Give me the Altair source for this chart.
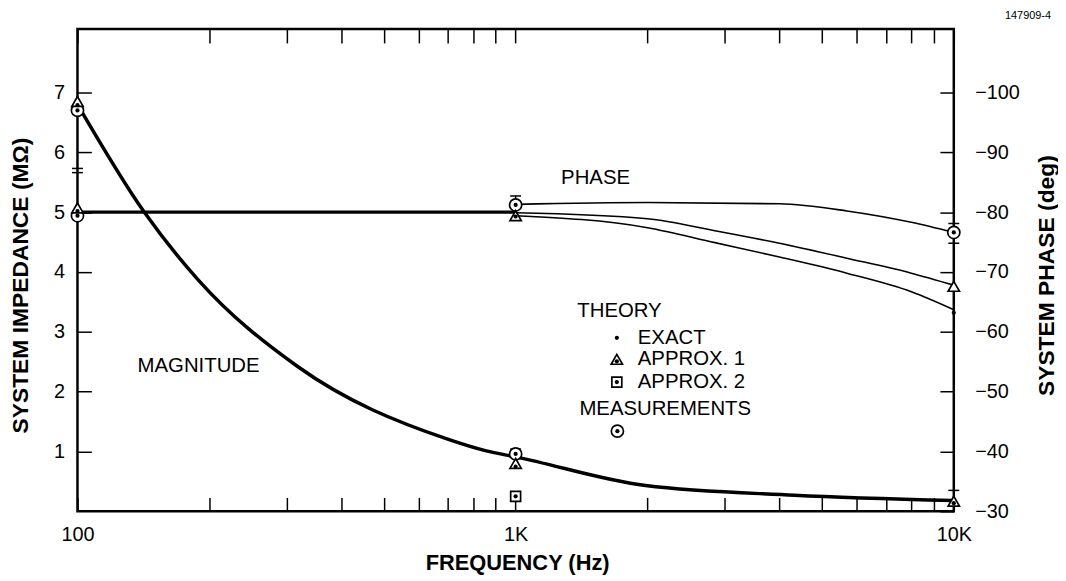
import altair as alt
import pandas as pd

FONT = "Liberation Sans"
W, H = 883, 486
L_TOP = 8.06
PH_TOP = -30 - 10 * L_TOP

# ---------------- data ----------------
x_ticks = [100, 200, 300, 400, 500, 600, 700, 800, 900,
           1000, 2000, 3000, 4000, 5000, 6000, 7000, 8000, 9000, 10000]
left_ticks = [1, 2, 3, 4, 5, 6, 7]
right_ticks = [-30, -40, -50, -60, -70, -80, -90, -100]

# magnitude curve (MOhm)
mag_f = [100, 142, 189, 318, 697, 857, 1000, 1980, 4330, 10000]
mag_v = [6.8, 5.0, 3.86, 2.42, 1.21, 1.01, 0.91, 0.43, 0.27, 0.18]

# phase curves (deg)
ph_main_f = [100, 1000]
ph_main_v = [-80, -80]
ph_top_f = [1000, 2000, 4000, 5700, 8000, 10000]
ph_top_v = [-81.3, -81.6, -81.4, -80.2, -78.3, -76.6]
ph_mid_f = [1000, 2000, 2850, 4000, 5700, 8000, 10000]
ph_mid_v = [-79.9, -78.9, -76.9, -74.8, -72.3, -69.8, -67.8]
ph_bot_f = [1000, 2000, 2850, 4000, 5700, 8000, 10000]
ph_bot_v = [-79.4, -77.4, -74.9, -72.5, -69.8, -66.7, -63.7]

# markers - magnitude
mag_meas_f = [100, 1000]
mag_meas_v = [6.7, 0.96]
mag_ap1_f = [100, 1000, 10000]
mag_ap1_v = [6.85, 0.8, 0.17]
mag_exact_f = [100, 1000, 10000]
mag_exact_v = [6.82, 0.78, 0.17]
mag_ap2_f = [1000]
mag_ap2_v = [0.25]
mag_err_f = [1000, 10000]
mag_err_lo = [0.96, 0.18]
mag_err_hi = [1.04, 0.35]

# markers - phase
ph_meas_f = [100, 1000, 10000]
ph_meas_v = [-79.4, -81.2, -76.6]
ph_ap1_f = [100, 1000, 10000]
ph_ap1_v = [-80.7, -79.4, -67.6]
ph_exact_f = [100, 1000, 10000]
ph_exact_v = [-80.5, -79.6, -63.5]
ph_err_f = [1000, 10000]
ph_err_lo = [-81.2, -74.8]
ph_err_hi = [-82.7, -78.1]
ph_cap_f = [100, 100, 1000, 10000, 10000]
ph_cap_v = [-86.6, -87.3, -82.7, -78.1, -74.8]

# annotations (freq, MOhm units)
ann_text = ["PHASE", "MAGNITUDE"]
ann_f = [1522, 189]
ann_v = [5.57, 2.42]
leg_text = ["THEORY", "EXACT", "APPROX. 1", "APPROX. 2", "MEASUREMENTS"]
leg_f = [1383, 1900, 1900, 1900, 1398]
leg_v = [3.35, 2.9, 2.54, 2.16, 1.71]
leg_exact = (1702, 2.9)
leg_ap1 = (1702, 2.54)
leg_ap2 = (1702, 2.16)
leg_meas = (1707, 1.34)

# ---------------- scales / axes ----------------
xscale = alt.Scale(type="log", domain=[100, 10000], nice=False)
yL = alt.Scale(domain=[0, L_TOP], nice=False, zero=False)
yR = alt.Scale(domain=[PH_TOP, -30], reverse=True, nice=False, zero=False)

common_axis = dict(domain=False, grid=False, tickColor="black", tickWidth=1.5,
                   tickSize=14, offset=-14, labelFont=FONT, labelFontSize=20,
                   labelColor="black", titleFont=FONT, titleColor="black",
                   titleFontWeight="bold", labelOverlap=False, labelFlush=False)

x_bottom = alt.Axis(orient="bottom", values=x_ticks,
                    labelExpr="datum.value == 100 ? '100' : datum.value == 1000 ? '1K' : datum.value == 10000 ? '10K' : ''",
                    labelPadding=13, title="FREQUENCY (Hz)", titleFontSize=22,
                    titleX=443, titleY=66, titleBaseline="middle", **common_axis)
x_top = alt.Axis(orient="top", values=x_ticks, labels=False, title=None, **common_axis)
y_left = alt.Axis(orient="left", values=left_ticks, labelPadding=13,
                  title="SYSTEM IMPEDANCE (MΩ)", titleFontSize=23, titleAngle=270,
                  titleX=-71.5, titleY=258, titleBaseline="middle", **common_axis)
y_right = alt.Axis(orient="right", values=right_ticks, labelPadding=21,
                   title="SYSTEM PHASE (deg)", titleFontSize=23, titleAngle=270,
                   titleX=107, titleY=248, titleBaseline="middle", **common_axis)


def XM(field="f"):
    return alt.X(f"{field}:Q", scale=xscale, axis=x_bottom)


def XP(field="f"):
    return alt.X(f"{field}:Q", scale=xscale, axis=x_top)


def YM(field="v"):
    return alt.Y(f"{field}:Q", scale=yL, axis=y_left)


def YP(field="v"):
    return alt.Y(f"{field}:Q", scale=yR, axis=y_right)


def df(f, v, **extra):
    d = {"f": f, "v": v}
    d.update(extra)
    return pd.DataFrame(d)


def open_sym(shape, size):
    return dict(shape=shape, size=size, filled=True, fill="white",
                stroke="black", strokeWidth=1.7, opacity=1)


DOT = dict(shape="circle", size=18, filled=True, color="black", opacity=1)
DOT_T = dict(shape="circle", size=18, filled=True, color="black", opacity=1, yOffset=2)

# ---------------- magnitude layer ----------------
mag_line = alt.Chart(df(mag_f, mag_v)).mark_line(
    color="black", strokeWidth=3.5, interpolate="monotone").encode(x=XM(), y=YM())
mag_rule = alt.Chart(df(mag_err_f, mag_err_lo, hi=mag_err_hi)).mark_rule(
    color="black", strokeWidth=1.5).encode(x=XM(), y=YM(), y2="hi:Q")
mag_cap = alt.Chart(df(mag_err_f, mag_err_hi)).mark_tick(
    orient="horizontal", size=11, thickness=1.5, color="black", opacity=1).encode(x=XM(), y=YM())
mag_meas = alt.Chart(df(mag_meas_f, mag_meas_v)).mark_point(**open_sym("circle", 150)).encode(x=XM(), y=YM())
mag_meas_d = alt.Chart(df(mag_meas_f, mag_meas_v)).mark_point(**DOT).encode(x=XM(), y=YM())
mag_ap1 = alt.Chart(df(mag_ap1_f, mag_ap1_v)).mark_point(**open_sym("triangle-up", 130)).encode(x=XM(), y=YM())
mag_ex = alt.Chart(df(mag_exact_f, mag_exact_v)).mark_point(**DOT_T).encode(x=XM(), y=YM())
mag_ap2 = alt.Chart(df(mag_ap2_f, mag_ap2_v)).mark_point(**open_sym("square", 100)).encode(x=XM(), y=YM())
mag_ap2_d = alt.Chart(df(mag_ap2_f, mag_ap2_v)).mark_point(**DOT).encode(x=XM(), y=YM())

ann = alt.Chart(df(ann_f, ann_v, t=ann_text)).mark_text(
    font=FONT, fontSize=20.5, color="black", align="center", baseline="middle").encode(
    x=XM(), y=YM(), text="t:N")
leg = alt.Chart(df(leg_f, leg_v, t=leg_text)).mark_text(
    font=FONT, fontSize=20.5, color="black", align="left", baseline="middle").encode(
    x=XM(), y=YM(), text="t:N")
leg_ex = alt.Chart(df([leg_exact[0]], [leg_exact[1]])).mark_point(**DOT).encode(x=XM(), y=YM())
leg_t = alt.Chart(df([leg_ap1[0]], [leg_ap1[1]])).mark_point(**open_sym("triangle-up", 130)).encode(x=XM(), y=YM())
leg_td = alt.Chart(df([leg_ap1[0]], [leg_ap1[1]])).mark_point(**DOT_T).encode(x=XM(), y=YM())
leg_s = alt.Chart(df([leg_ap2[0]], [leg_ap2[1]])).mark_point(**open_sym("square", 100)).encode(x=XM(), y=YM())
leg_sd = alt.Chart(df([leg_ap2[0]], [leg_ap2[1]])).mark_point(**DOT).encode(x=XM(), y=YM())
leg_c = alt.Chart(df([leg_meas[0]], [leg_meas[1]])).mark_point(**open_sym("circle", 150)).encode(x=XM(), y=YM())
leg_cd = alt.Chart(df([leg_meas[0]], [leg_meas[1]])).mark_point(**DOT).encode(x=XM(), y=YM())

figno = alt.Chart(pd.DataFrame({"t": ["147909-4"]})).mark_text(
    font=FONT, fontSize=11, color="black", align="right", baseline="middle").encode(
    x=alt.value(981), y=alt.value(-13), text="t:N")

mag_layer = alt.layer(mag_line, mag_rule, mag_cap, mag_ap2, mag_ap2_d, mag_meas, mag_meas_d,
                      mag_ap1, mag_ex, ann, leg, leg_ex, leg_t, leg_td, leg_s, leg_sd,
                      leg_c, leg_cd, figno)

# ---------------- phase layer ----------------
curves = pd.concat([
    df(ph_main_f, ph_main_v, c=["main"] * len(ph_main_f)),
    df(ph_top_f, ph_top_v, c=["top"] * len(ph_top_f)),
    df(ph_mid_f, ph_mid_v, c=["mid"] * len(ph_mid_f)),
    df(ph_bot_f, ph_bot_v, c=["bot"] * len(ph_bot_f)),
])
ph_lines = alt.Chart(curves).mark_line(color="black", interpolate="monotone").encode(
    x=XP(), y=YP(), detail="c:N",
    strokeWidth=alt.condition("datum.c == 'main'", alt.value(3.2), alt.value(1.6)))
ph_rule = alt.Chart(df(ph_err_f, ph_err_lo, hi=ph_err_hi)).mark_rule(
    color="black", strokeWidth=1.5).encode(x=XP(), y=YP(), y2="hi:Q")
ph_cap = alt.Chart(df(ph_cap_f, ph_cap_v)).mark_tick(
    orient="horizontal", size=11, thickness=1.5, color="black", opacity=1).encode(x=XP(), y=YP())
ph_meas = alt.Chart(df(ph_meas_f, ph_meas_v)).mark_point(**open_sym("circle", 150)).encode(x=XP(), y=YP())
ph_meas_d = alt.Chart(df(ph_meas_f, ph_meas_v)).mark_point(**DOT).encode(x=XP(), y=YP())
ph_ap1 = alt.Chart(df(ph_ap1_f, ph_ap1_v)).mark_point(**open_sym("triangle-up", 130)).encode(x=XP(), y=YP())
ph_ex = alt.Chart(df(ph_exact_f, ph_exact_v)).mark_point(**DOT_T).encode(x=XP(), y=YP())

phase_layer = alt.layer(ph_lines, ph_rule, ph_cap, ph_meas, ph_meas_d, ph_ap1, ph_ex)

chart = alt.layer(mag_layer, phase_layer).resolve_scale(y="independent").resolve_axis(
    x="independent", y="independent").properties(
    width=W, height=H,
    autosize=alt.AutoSizeParams(type="none"),
    padding={"left": 70, "top": 19, "right": 105, "bottom": 63},
    background="white",
).configure_view(stroke="black", strokeWidth=2.5)

chart.save("out.html", embed_options={"renderer": "svg", "actions": False})
